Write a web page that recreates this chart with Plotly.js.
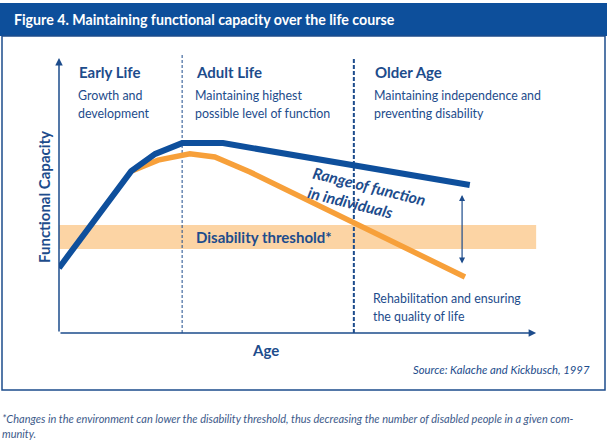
<!DOCTYPE html>
<html><head><meta charset="utf-8">
<script src="https://cdn.plot.ly/plotly-3.0.1.min.js"></script>
<style>html,body{margin:0;padding:0;background:#fff}#chart{width:607px;height:445px}</style>
</head><body><div id="chart"></div>
<script>
// Data (abstract units: age 0-100, functional capacity 0-100)
const highAge = [0, 15.0, 20.0, 25.6, 34.1, 85.4];
const highCapacity = [23.0, 57.2, 63.3, 67.1, 67.1, 52.3];
const lowAge = [15.0, 20.6, 27.2, 32.4, 39.7, 84.4];
const lowCapacity = [57.2, 61.1, 63.3, 62.2, 56.9, 19.8];
const thresholdBand = [29.7, 38.2];
const stageBounds = [25.6, 61.3];
const rangeArrowAge = 83.8;
const rangeArrowSpan = [24.0, 48.8];
const stageTitles = ["Early Life", "Adult Life", "Older Age"];
const stageLine1 = ["Growth and", "Maintaining highest", "Maintaining independence and"];
const stageLine2 = ["development", "possible level of function", "preventing disability"];
const stageStart = [3.8, 28.1, 65.3];

const BLUE = "#0e4f9c", ORANGE = "#f7a03a", TXT = "#1d4c8c", BAND = "#fcd4a4";
const FONT = "Lato, sans-serif";

// pixel helpers for paper coords of decorations (plot area: x 59..540, y 50..333)
const L = 59, R = 540, T = 50, B = 333;
const px = v => (v - L) / (R - L);
const py = v => (B - v) / (B - T);

const traces = [
  {x: lowAge, y: lowCapacity, mode: "lines", line: {color: ORANGE, width: 5.5}, hoverinfo: "skip"},
  {x: highAge, y: highCapacity, mode: "lines", line: {color: BLUE, width: 6}, hoverinfo: "skip"}
];

const shapes = [
  {type: "rect", xref: "paper", yref: "paper", x0: px(0), x1: px(607), y0: py(36), y1: py(3), fillcolor: "#0d4f9b", line: {width: 0}, layer: "below"},
  {type: "rect", xref: "paper", yref: "paper", x0: px(2), x1: px(605), y0: py(390), y1: py(36), fillcolor: "rgba(0,0,0,0)", line: {color: "#1d4c8c", width: 1.5}, layer: "below"},
  {type: "rect", xref: "x", yref: "y", x0: 0, x1: 99.2, y0: thresholdBand[0], y1: thresholdBand[1], fillcolor: BAND, line: {width: 0}, layer: "below"},
  {type: "line", xref: "x", yref: "y", x0: stageBounds[0], x1: stageBounds[0], y0: 0, y1: 98.5, line: {color: "#1d4c8c", width: 1, dash: "3px,2px"}, layer: "below"},
  {type: "line", xref: "x", yref: "y", x0: stageBounds[1], x1: stageBounds[1], y0: 0, y1: 97.5, line: {color: "#1d4c8c", width: 2, dash: "4px,2px"}, layer: "below"}
];

const ann = [];
ann.push({x: 99.2, y: 0, ax: 0, ay: 0, axref: "x", ayref: "y", xref: "x", yref: "y", text: "", showarrow: true, arrowhead: 2, arrowsize: 1, arrowwidth: 1.5, arrowcolor: "#1d4c8c", standoff: 0});
ann.push({x: 0, y: 97.2, ax: 0, ay: 0, axref: "x", ayref: "y", xref: "x", yref: "y", text: "", showarrow: true, arrowhead: 2, arrowsize: 1, arrowwidth: 1.5, arrowcolor: "#1d4c8c", standoff: 0});
ann.push({x: rangeArrowAge, y: rangeArrowSpan[1], ax: rangeArrowAge, ay: rangeArrowSpan[0], axref: "x", ayref: "y", xref: "x", yref: "y", text: "", showarrow: true, arrowhead: 2, startarrowhead: 2, arrowside: "end+start", arrowsize: 1, startarrowsize: 1, arrowwidth: 1.2, arrowcolor: "#1d4c8c", standoff: 0, startstandoff: 0});

const BODY = {family: FONT, size: 12.4, color: TXT};
for (let i = 0; i < 3; i++) {
  ann.push({x: stageStart[i], y: py(72), xref: "x", yref: "paper", xanchor: "left", yanchor: "middle", showarrow: false, text: "<b>" + stageTitles[i] + "</b>", font: {family: FONT, size: 15, color: TXT}});
  ann.push({x: stageStart[i] - 0.3, y: py(95), xref: "x", yref: "paper", xanchor: "left", yanchor: "middle", showarrow: false, text: stageLine1[i], font: BODY});
  ann.push({x: stageStart[i] - 0.3, y: py(113), xref: "x", yref: "paper", xanchor: "left", yanchor: "middle", showarrow: false, text: stageLine2[i], font: BODY});
}
ann.push({x: 28.1, y: (thresholdBand[0] + thresholdBand[1]) / 2, xref: "x", yref: "y", xanchor: "left", yanchor: "middle", showarrow: false, text: "<b>Disability threshold*</b>", font: {family: FONT, size: 15, color: TXT}});
ann.push({x: 64.0, y: 48.3, xref: "x", yref: "y", xanchor: "center", yanchor: "middle", align: "left", textangle: 14, showarrow: false, text: "<b><i>Range of function<br>in individuals</i></b>", font: {family: FONT, size: 15.6, color: TXT}});
ann.push({x: 64.9, y: py(298), xref: "x", yref: "paper", xanchor: "left", yanchor: "middle", showarrow: false, text: "Rehabilitation and ensuring", font: BODY});
ann.push({x: 64.9, y: py(316), xref: "x", yref: "paper", xanchor: "left", yanchor: "middle", showarrow: false, text: "the quality of life", font: BODY});
ann.push({x: px(44), y: py(197), xref: "paper", yref: "paper", xanchor: "center", yanchor: "middle", textangle: -90, showarrow: false, text: "<b>Functional Capacity</b>", font: {family: FONT, size: 15, color: TXT}});
ann.push({x: px(265), y: py(350), xref: "paper", yref: "paper", xanchor: "center", yanchor: "middle", showarrow: false, text: "<b>Age</b>", font: {family: FONT, size: 15, color: TXT}});
ann.push({x: px(592), y: py(369), xref: "paper", yref: "paper", xanchor: "right", yanchor: "middle", showarrow: false, text: "<i>Source: Kalache and Kickbusch, 1997</i>", font: {family: FONT, size: 11.3, color: TXT}});
ann.push({x: px(0), y: py(418), xref: "paper", yref: "paper", xanchor: "left", yanchor: "middle", showarrow: false, text: "<i>*Changes in the environment can lower the disability threshold, thus decreasing the number of disabled people in a given com-</i>", font: {family: FONT, size: 11, color: "#3d5a8a"}});
ann.push({x: px(0), y: py(433), xref: "paper", yref: "paper", xanchor: "left", yanchor: "middle", showarrow: false, text: "<i>munity.</i>", font: {family: FONT, size: 11, color: "#3d5a8a"}});

const layout = {
  width: 607, height: 445,
  margin: {l: L, r: 607 - R, t: T, b: 445 - B, pad: 0},
  paper_bgcolor: "#fff", plot_bgcolor: "rgba(0,0,0,0)",
  showlegend: false,
  title: {text: "<b>Figure 4. Maintaining functional capacity over the life course</b>", x: 14 / 607, xanchor: "left", xref: "container", y: 1 - 20 / 445, yanchor: "middle", yref: "container", font: {family: FONT, size: 14.2, color: "#fff"}},
  xaxis: {range: [0, 100], showgrid: false, zeroline: false, showticklabels: false, showline: false, ticks: "", fixedrange: true},
  yaxis: {range: [0, 100], showgrid: false, zeroline: false, showticklabels: false, showline: false, ticks: "", fixedrange: true},
  shapes: shapes,
  annotations: ann
};
Plotly.newPlot("chart", traces, layout, {staticPlot: true, displayModeBar: false});
</script></body></html>
